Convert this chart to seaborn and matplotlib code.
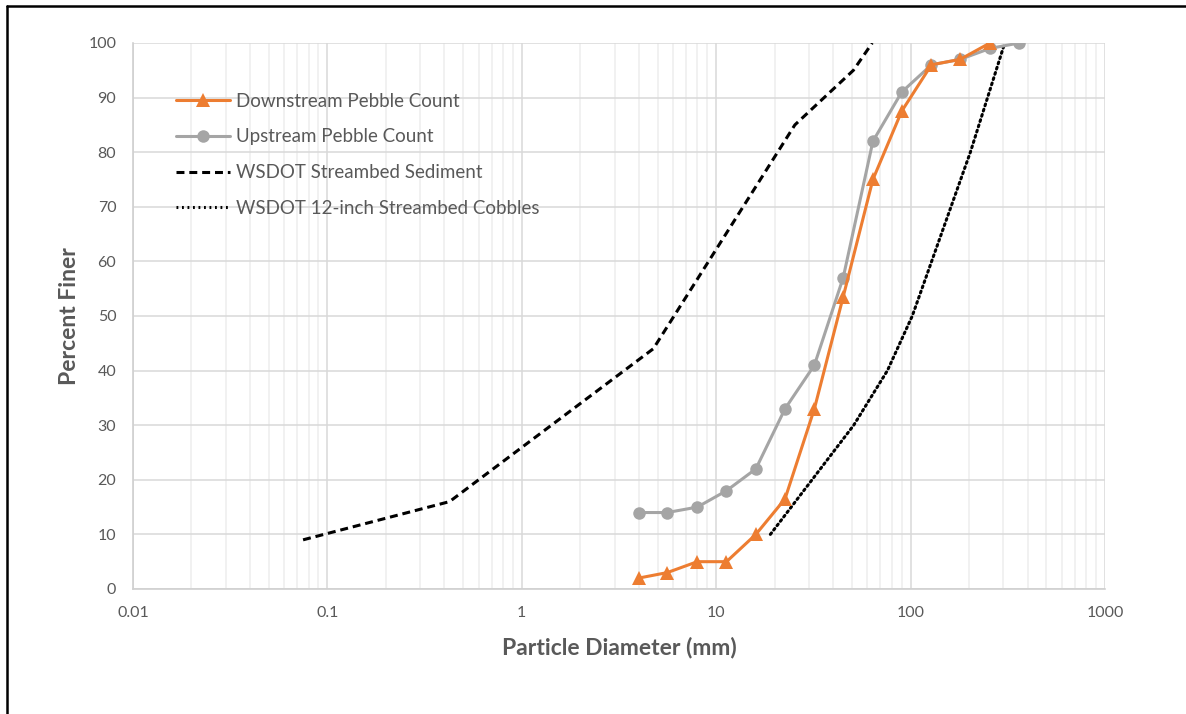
import matplotlib
matplotlib.use("Agg")
import matplotlib.pyplot as plt
from matplotlib.lines import Line2D
from matplotlib.ticker import LogLocator, FixedLocator, NullFormatter
import seaborn as sns
import pandas as pd

# Sieve sizes (mm) and percent finer.
pebble_sizes = [4, 5.6, 8, 11.3, 16, 22.6, 32, 45, 64, 90, 128, 180, 256, 362]
downstream_finer = [2, 3, 5, 5, 10, 16.5, 33, 53.5, 75, 87.5, 96, 97, 100]
upstream_finer = [14, 14, 15, 18, 22, 33, 41, 57, 82, 91, 96, 97, 99, 100]

sediment_sizes = [0.075, 0.425, 4.75, 25.4, 50.8, 63.5]
sediment_finer = [9, 16, 44, 85, 95, 100]

cobble_sizes = [19, 51, 76, 102, 203, 305]
cobble_finer = [10, 30, 40, 50, 80, 100]

x_ticks = [0.01, 0.1, 1, 10, 100, 1000]
x_tick_labels = ["0.01", "0.1", "1", "10", "100", "1000"]
y_ticks = list(range(0, 101, 10))

ORANGE = "#ED7D31"
GRAY = "#A5A5A5"
TEXT = "#595959"

sns.set_style("white")
plt.rcParams["font.family"] = ["Lato", "DejaVu Sans"]

df_down = pd.DataFrame({"size": pebble_sizes[:len(downstream_finer)], "finer": downstream_finer})
df_up = pd.DataFrame({"size": pebble_sizes, "finer": upstream_finer})
df_sed = pd.DataFrame({"size": sediment_sizes, "finer": sediment_finer})
df_cob = pd.DataFrame({"size": cobble_sizes, "finer": cobble_finer})

fig = plt.figure(figsize=(11.86, 7.14), dpi=100)
ax = fig.add_axes([0.1121, 0.1751, 0.8196, 0.7647])

sns.lineplot(data=df_sed, x="size", y="finer", color="black", lw=2.2,
             ax=ax, zorder=3)
ax.lines[-1].set_dashes((2.6, 1.6))
sns.lineplot(data=df_cob, x="size", y="finer", color="black", lw=2.2,
             ax=ax, zorder=3)
ax.lines[-1].set_dashes((0.6, 1.2))
ax.lines[-1].set_dash_capstyle("round")
sns.lineplot(data=df_up, x="size", y="finer", color=GRAY, lw=2.2,
             marker="o", markersize=9, markeredgewidth=0, ax=ax, zorder=4)
sns.lineplot(data=df_down, x="size", y="finer", color=ORANGE, lw=2.2,
             marker="^", markersize=9.5, markeredgewidth=0, ax=ax, zorder=5)

ax.set_xscale("log")
ax.set_xlim(0.01, 1000)
ax.set_ylim(0, 100)
ax.xaxis.set_major_locator(FixedLocator(x_ticks))
ax.set_xticklabels(x_tick_labels)
ax.xaxis.set_minor_locator(LogLocator(base=10, subs=range(2, 10)))
ax.xaxis.set_minor_formatter(NullFormatter())
ax.set_yticks(y_ticks)

ax.grid(which="major", axis="both", color="#d9d9d9", lw=1.1, zorder=0)
ax.grid(which="minor", axis="x", color="#eeeeee", lw=1.1, zorder=0)
ax.set_axisbelow(True)

for side in ["top", "right"]:
    ax.spines[side].set_visible(False)
for side in ["left", "bottom"]:
    ax.spines[side].set_color("#d0d0d0")
    ax.spines[side].set_linewidth(1.2)

ax.tick_params(axis="both", which="both", length=0, labelsize=11.5,
               labelcolor=TEXT, pad=12)
ax.tick_params(axis="y", pad=12)

ax.set_xlabel("Particle Diameter (mm)", fontsize=16.5, fontweight="bold",
              color=TEXT, labelpad=12)
ax.set_ylabel("Percent Finer", fontsize=16.5, fontweight="bold",
              color=TEXT, labelpad=6)

handles = [
    Line2D([], [], color=ORANGE, lw=2.2, marker="^", markersize=9.5, markeredgewidth=0),
    Line2D([], [], color=GRAY, lw=2.2, marker="o", markersize=9, markeredgewidth=0),
    Line2D([], [], color="black", lw=2.2, dashes=(2.6, 1.6)),
    Line2D([], [], color="black", lw=2.2, dashes=(0.6, 1.2)),
]
labels = ["Downstream Pebble Count", "Upstream Pebble Count",
          "WSDOT Streambed Sediment", "WSDOT 12-inch Streambed Cobbles"]
leg = ax.legend(handles, labels, loc="upper left", bbox_to_anchor=(0.027, 0.94),
                frameon=False, fontsize=13.5, handlelength=2.9, handletextpad=0.3,
                labelspacing=1.0, labelcolor=TEXT)

# Border of the original screenshot (left and top only).
fig.add_artist(Line2D([0.0059, 0.0059], [0, 0.9916], color="black", lw=1.8,
                      transform=fig.transFigure))
fig.add_artist(Line2D([0.0059, 1], [0.9916, 0.9916], color="black", lw=1.8,
                      transform=fig.transFigure))

fig.savefig("out.png", dpi=100)
